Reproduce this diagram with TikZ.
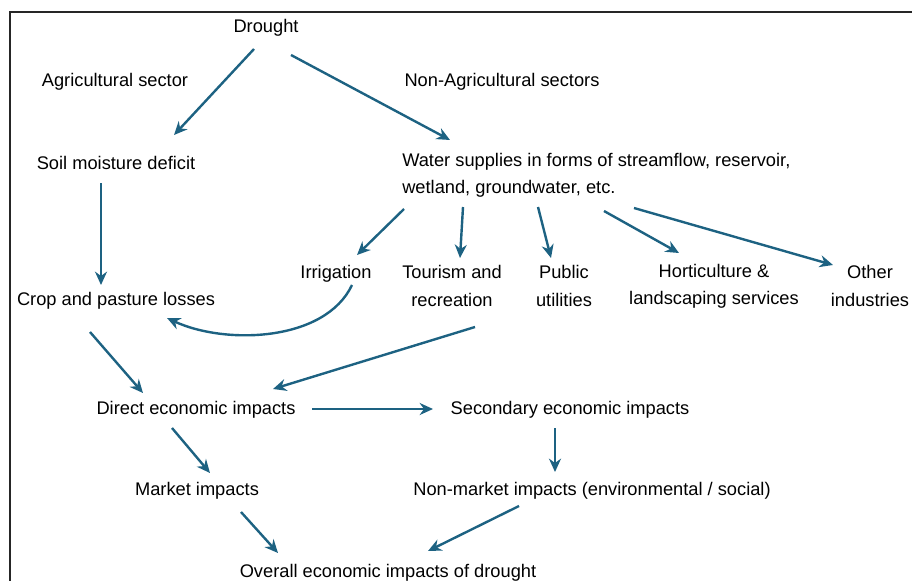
\documentclass[tikz,border=0pt]{standalone}
\usepackage{fontspec}
\setmainfont{Liberation Sans}
\usepackage{xcolor}
\usetikzlibrary{arrows.meta, positioning}
\definecolor{flowblue}{HTML}{1D6282}

\begin{document}
\begin{tikzpicture}[
  x=0.75pt, y=-0.75pt,
  item/.style={
    inner sep=0pt,
    align=center,
    font=\fontsize{13.7}{20.3}\selectfont
  },
  link/.style={
    -{Stealth[length=10pt, width=9pt]},
    line width=1.8pt,
    draw=flowblue
  }
]
\useasboundingbox (0,0) rectangle (912,581);

% Frame
\draw[line width=1.3pt, black!85] (912,12) -- (10,12) -- (10,581);

% Nodes
\node[item] (drought)   at (266,28)  {Drought};
\node[item] (agri)      at (115,82)  {Agricultural sector};
\node[item] (nonagri)   at (502,82)  {Non-Agricultural sectors};
\node[item] (soil)      at (116,163) {Soil moisture deficit};
\node[item, align=left, anchor=west] (water) at (402,175)
  {Water supplies in forms of streamflow, reservoir,\\wetland, groundwater, etc.};
\node[item] (irrig)     at (336,274) {Irrigation};
\node[item] (tourism)   at (452,286) {Tourism and\\recreation};
\node[item] (public)    at (564,286) {Public\\utilities};
\node[item] (hort)      at (714,286) {Horticulture \&\\landscaping services};
\node[item] (other)     at (870,286) {Other\\industries};
\node[item] (crop)      at (116,301) {Crop and pasture losses};
\node[item] (direct)    at (196,410) {Direct economic impacts};
\node[item] (secondary) at (570,410) {Secondary economic impacts};
\node[item] (market)    at (197,491) {Market impacts};
\node[item] (nonmarket) at (592,491) {Non-market impacts (environmental / social)};
\node[item] (overall)   at (388,573) {Overall economic impacts of drought};

% Drought splits into the two sectors
\draw[link] ([shift={(-12,21)}]drought.center) -- ([shift={(58,-28)}]soil.center);
\draw[link] ([shift={(25,27)}]drought.center) -- ([shift={(48,-35)}]water.west);

% Agricultural branch
\draw[link] ([shift={(-15,20)}]soil.center) -- ([shift={(-15,-16)}]crop.center);

% Water supply users
\draw[link] ([shift={(2,34)}]water.west) -- ([shift={(21,-19)}]irrig.center);
\draw[link] ([shift={(61,32)}]water.west) -- ([shift={(8,-28)}]tourism.center);
\draw[link] ([shift={(136,32)}]water.west) -- ([shift={(-13,-28)}]public.center);
\draw[link] ([shift={(202,36)}]water.west) -- ([shift={(-35,-33)}]hort.center);
\draw[link] ([shift={(232,33)}]water.west) -- ([shift={(-37,-21)}]other.center);

% Irrigation feeds back into crop losses
\draw[link] ([shift={(16,11)}]irrig.center)
  .. controls ([shift={(-11,68)}]irrig.center) and ([shift={(109,44)}]crop.center)
  .. ([shift={(51,17)}]crop.center);

% Economic impacts
\draw[link] ([shift={(23,41)}]tourism.center) -- ([shift={(77,-21)}]direct.center);
\draw[link] ([shift={(-26,31)}]crop.center) -- ([shift={(-53,-17)}]direct.center);
\draw[link] ([shift={(116,-1)}]direct.center) -- ([shift={(-137,-1)}]secondary.center);
\draw[link] ([shift={(-24,18)}]direct.center) -- ([shift={(13,-18)}]market.center);
\draw[link] ([shift={(-15,18)}]secondary.center) -- ([shift={(-37,-19)}]nonmarket.center);
\draw[link] ([shift={(44,21)}]market.center) -- ([shift={(-110,-20)}]overall.center);
\draw[link] ([shift={(-73,15)}]nonmarket.center) -- ([shift={(40,-22)}]overall.center);

\end{tikzpicture}
\end{document}
